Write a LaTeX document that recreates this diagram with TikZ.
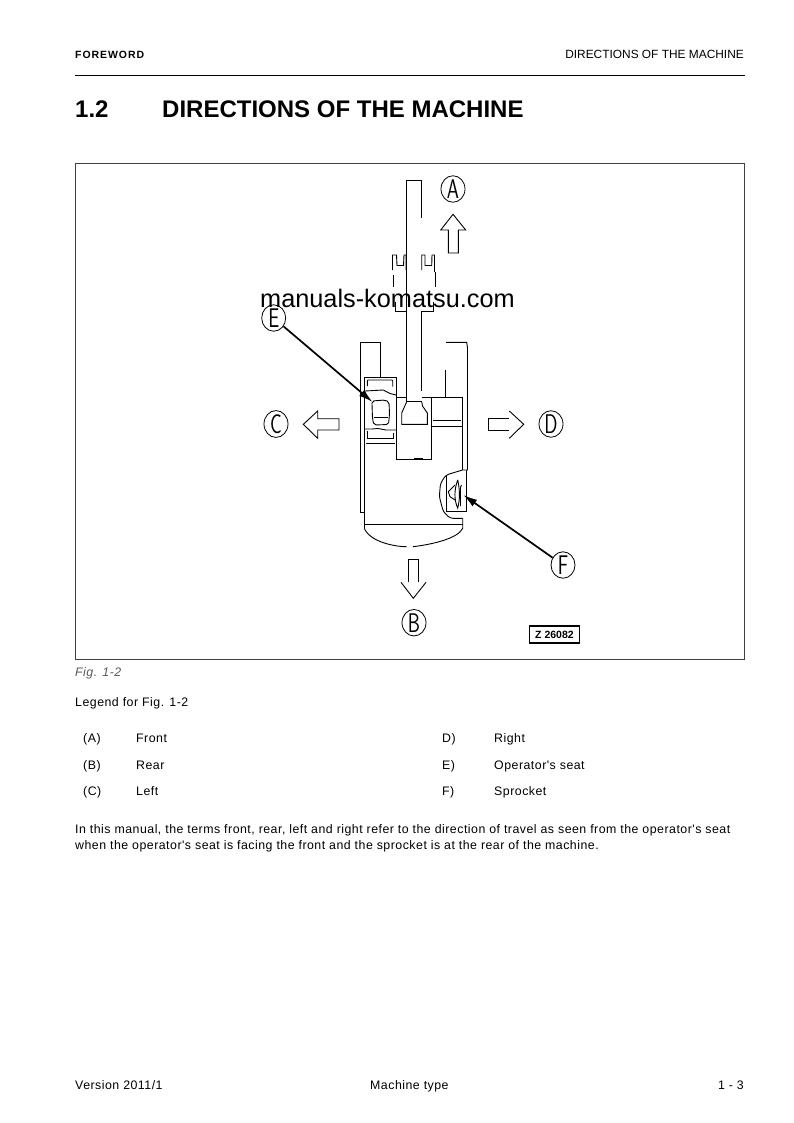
\documentclass[tikz,border=0pt]{standalone}
\usepackage{fontspec}
\setmainfont{Liberation Sans}
\newfontfamily\bodyf[LetterSpace=4]{Liberation Sans}
\newfontfamily\headf[LetterSpace=9]{Liberation Sans}
\newfontfamily\lmsans{Latin Modern Sans}
\usetikzlibrary{arrows.meta,shapes.geometric}
\tikzset{
 ln/.style={line width=.9pt,line join=miter,black},
 txt/.style={anchor=base west,inner sep=0pt,text=black,font=\fontsize{12.35}{14}\selectfont\bodyf},
 txe/.style={anchor=base east,inner sep=0pt,text=black,font=\fontsize{12.35}{14}\selectfont\bodyf},
 circ/.style={draw,ellipse,minimum width=24pt,minimum height=26pt,inner sep=0pt,line width=.8pt},
 lead/.style={line width=1.7pt,-{Latex[length=14pt,width=8pt]}},
}
\newcommand{\lett}[1]{\scalebox{.72}[1]{\fontsize{27}{27}\selectfont\lmsans #1}}
\begin{document}
\begin{tikzpicture}[x=1pt,y=-1pt]
\useasboundingbox (0,0) rectangle (793,1123);
% header
\node[txt,font=\fontsize{10.5}{12}\selectfont\bfseries\headf] (hl) at (75,59) {FOREWORD};
\node[txe,font=\fontsize{11.9}{14}\selectfont] (hr) at (744,59) {DIRECTIONS OF THE MACHINE};
\coordinate (r1) at (75,75.5); \coordinate (r2) at (745,75.5);
\draw[line width=1.8pt] (r1) -- (r2);
\node[txt,font=\fontsize{24}{26}\selectfont\bfseries] (tn) at (75,118) {1.2};
\node[txt,font=\fontsize{24}{26}\selectfont\bfseries] (tt) at (162,118) {DIRECTIONS OF THE MACHINE};
% frame
\draw[line width=1pt,black!75] (75.5,164) rectangle (744.5,659.5);
% boom
\draw[ln] (406.7,401.7) -- (406.7,180) -- (421.7,180) -- (421.7,217.7);
\draw[ln] (421.7,311) -- (421.7,391);
% left clevis
\draw[ln] (392.5,270) -- (392.5,255) -- (396.5,255) -- (397,265.5) -- (403.5,265.5) -- (404,255) -- (406,255) -- (406,270);
\draw[ln] (393.3,275) -- (393.3,287);
\draw[ln] (395.7,302) -- (395.7,311.5) -- (406.7,311.5);
% right clevis
\draw[ln] (421.7,270) -- (421.7,255) -- (425,255) -- (425,265.5) -- (431.7,265.5) -- (432,255) -- (434.5,255) -- (434.5,272);
\draw[ln] (435,272) -- (435,287);
\draw[ln] (433.7,302) -- (433.7,311.5) -- (421.7,311.5);
% cab
\draw[ln] (360.3,512.3) -- (360.3,342.3) -- (380.3,342.3) -- (380.3,377);
\draw[ln] (360.3,512.3) -- (364.3,512.3);
\draw[ln] (446,342.3) -- (466.7,342.3) -- (467.5,348) -- (467.5,470) -- (462.5,470);
\draw[ln] (445.7,370) -- (445.7,397.3);
\draw[ln] (364.3,528.3) -- (364.3,377.7) -- (396.2,377.7) -- (396.2,459) -- (431.7,459) -- (431.7,397.3);
\draw[line width=1.8pt] (414,458.7) -- (422.7,458.7);
\draw[ln] (396.2,397.3) -- (406.7,397.3);
\draw[ln] (421.7,397.3) -- (462.5,397.3) -- (462.5,470);
\draw[ln] (432.7,420.7) -- (460.7,420.7);
\draw[ln] (431.7,426.7) -- (462.5,426.7);
% inner cab
\draw[ln] (406.7,401.7) -- (421.7,401.7);
\draw[ln] (406.7,401.7) -- (401.7,413) -- (401.7,424.3) -- (427.3,424.3) -- (427.3,413) -- (422.5,406) -- (421.7,401.7);
% seat
\draw[ln] (367.3,386) -- (367.3,381) -- (368,380) -- (392,380) -- (392.7,381) -- (392.7,386.5);
\draw[ln] (365,391) -- (383.3,390) -- (390,393.5) -- (396,395);
\draw[ln,rounded corners=2pt] (372,404) -- (372,401) -- (385,400) -- (389,402) -- (389.5,414) -- (388.5,424.5) -- (374,425) -- (372.5,419) -- (372,404);
\draw[ln] (373.5,417.3) -- (388,417.3);
\draw[ln] (365,429) -- (372,429) -- (378,428.5) -- (386,430) -- (396,430);
\draw[ln] (367.3,431) -- (367.3,438.3) -- (393.3,438.3) -- (393.3,433);
\draw[ln] (366,443.3) -- (395,443.3);
% rear
\draw[ln] (364.3,524) -- (462.7,524);
\draw[ln] (462.7,518.3) -- (462.7,528.3) .. controls (458,538) and (435,544) .. (413,546.7);
\draw[ln] (406.5,546.7) .. controls (395,546.7) and (370,542) .. (364.3,528.3);
% sprocket housing
\draw[ln,rounded corners=3pt] (462.5,470) -- (446,475) -- (440.5,483.3) -- (439.3,496.7) -- (443.3,511.7) -- (450,518.3) -- (462.7,518.3);
\draw[ln] (446,475) -- (446,511.7) -- (466.7,511.7) -- (466.7,470);
% sprocket
\draw[ln] (457.7,480) .. controls (454,490) and (454,500) .. (457.7,508) .. controls (460,500) and (460,490) .. (457.7,480);
\draw[ln] (455,485) -- (448.3,491.7) -- (450,496.7) -- (455,500);
\draw[ln] (461.5,485) -- (460.5,487) -- (460.5,506);
% direction arrows
\draw[ln] (453,214.3) -- (465.7,230) -- (458.3,230) -- (458.3,253) -- (448.3,253) -- (448.3,230) -- (440.7,230) -- cycle;
\draw[ln] (303.3,424.3) -- (317.7,411) -- (317.7,418.7) -- (339,418.7) -- (339,430) -- (317.7,430) -- (317.7,438.3) -- cycle;
\draw[ln] (509.3,418.7) -- (488.3,418.7) -- (488.3,430) -- (509.3,430);
\draw[ln] (509.3,411) -- (523.7,424.3) -- (509.3,438.3);
\draw[ln] (408.3,582) -- (408.3,559) -- (418.3,559) -- (418.3,582);
\draw[ln] (401,582.3) -- (413.3,598.3) -- (426,582.3);
% circled letters
\node[circ] (A) at (453,189) {\lett{A}};
\node[circ] (B) at (414,622.7) {\lett{B}};
\node[circ] (C) at (276,424) {\lett{C}};
\node[circ] (D) at (551,424) {\lett{D}};
\node[circ] (E) at (273.7,318) {\lett{E}};
\node[circ] (F) at (563,565) {\lett{F}};
\coordinate (Etip) at (372.5,402);
\coordinate (Ftip) at (463.3,495);
\draw[lead] (E) -- (Etip);
\draw[lead] (F) -- (Ftip);
% tag
\node[draw,line width=1.8pt,minimum width=50pt,minimum height=16.5pt,inner sep=0pt,font=\fontsize{10.5}{11}\selectfont\bfseries] (tag) at (554.5,634.5) {Z 26082};
% watermark
\node[txt,font=\fontsize{25.3}{27}\selectfont] (wm) at (260,307) {manuals-komatsu.com};
% caption
\node[txt,text=black!65,font=\fontsize{12.35}{14}\selectfont\itshape\bodyf] (fig) at (75,676.5) {Fig. 1-2};
\node[txt] (leg) at (75,706.5) {Legend for Fig. 1-2};
\node[txt] (a1) at (83,742.5) {(A)};
\node[txt] (a2) at (136,742.5) {Front};
\node[txt] (b1) at (83,769.5) {(B)};
\node[txt] (b2) at (136,769.5) {Rear};
\node[txt] (c1) at (83,795.5) {(C)};
\node[txt] (c2) at (136,795.5) {Left};
\node[txt] (d1) at (442,742.5) {D)};
\node[txt] (d2) at (494,742.5) {Right};
\node[txt] (e1) at (442,769.5) {E)};
\node[txt] (e2) at (494,769.5) {Operator's seat};
\node[txt] (f1) at (442,795.5) {F)};
\node[txt] (f2) at (494,795.5) {Sprocket};
\node[txt] (p1) at (75,833.5) {In this manual, the terms front, rear, left and right refer to the direction of travel as seen from the operator's seat};
\node[txt] (p2) at (75,849.5) {when the operator's seat is facing the front and the sprocket is at the rear of the machine.};
% footer
\node[txt] (fl) at (75,1089) {Version 2011/1};
\node[txt] (fc) at (370,1089) {Machine type};
\node[txe] (fr) at (744,1089) {1 - 3};
\end{tikzpicture}
\end{document}
